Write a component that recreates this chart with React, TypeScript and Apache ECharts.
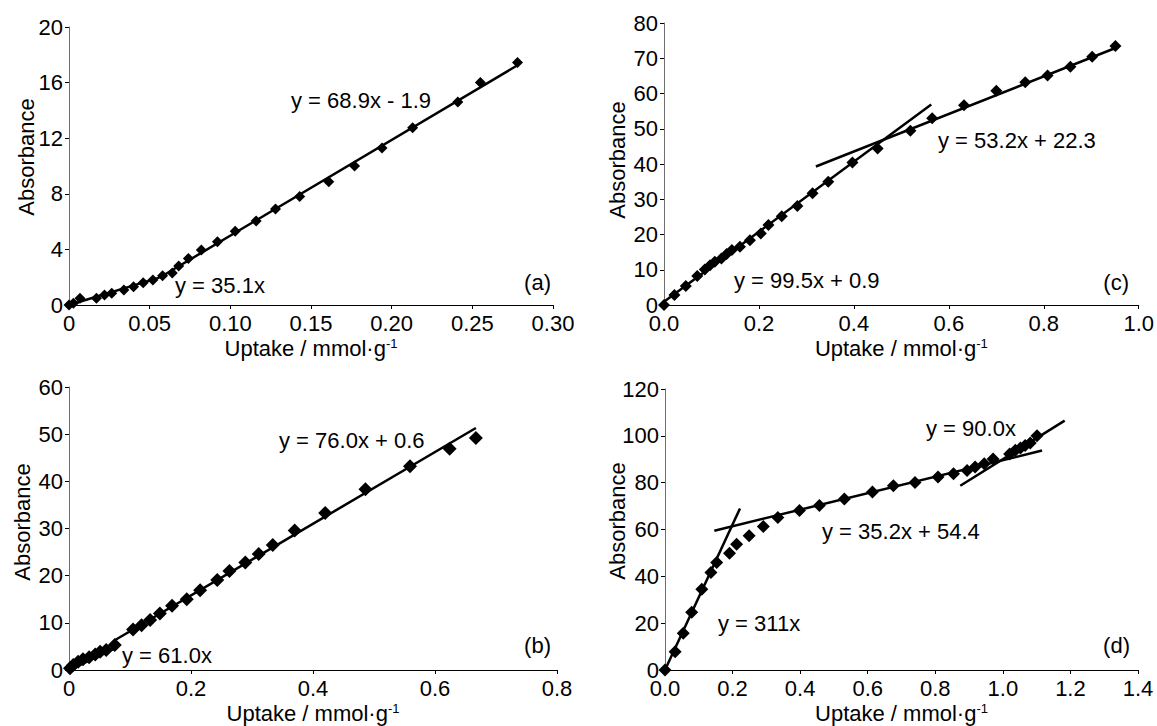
import React, { useEffect, useRef } from "react";
import * as echarts from "echarts";

const FONT = '"Liberation Sans", Arial, Helvetica, sans-serif';

// Panel (a)
const dataA: [number, number][] = [
  [0, 0], [0.0027, 0.12], [0.0068, 0.48], [0.017, 0.48], [0.022, 0.72], [0.0265, 0.84],
  [0.034, 1.08], [0.040, 1.32], [0.046, 1.6], [0.052, 1.8], [0.058, 2.1], [0.064, 2.3],
  [0.068, 2.8], [0.074, 3.35], [0.082, 3.95], [0.092, 4.55], [0.103, 5.3], [0.116, 6.05],
  [0.128, 6.9], [0.143, 7.8], [0.161, 8.87], [0.177, 10.0], [0.194, 11.3], [0.213, 12.75],
  [0.241, 14.6], [0.255, 16.0], [0.278, 17.45],
];
const fitA1: [number, number][] = [[0, 0], [0.056, 1.97]];
const fitA2: [number, number][] = [[0.056, 1.96], [0.278, 17.25]];

// Panel (b)
const dataB: [number, number][] = [
  [0.0016, 0.35], [0.007, 1.06], [0.015, 1.76], [0.023, 2.26], [0.033, 2.68], [0.043, 3.3],
  [0.051, 3.88], [0.061, 4.24], [0.075, 5.3], [0.105, 8.6], [0.119, 9.5], [0.133, 10.6],
  [0.149, 12.0], [0.169, 13.6], [0.193, 15.0], [0.215, 16.9], [0.243, 19.1], [0.263, 21.0],
  [0.289, 22.8], [0.311, 24.6], [0.334, 26.5], [0.370, 29.6], [0.420, 33.3], [0.486, 38.3],
  [0.559, 43.2], [0.624, 46.9], [0.667, 49.2],
];
const fitB1: [number, number][] = [[0, 0], [0.075, 4.58]];
const fitB2: [number, number][] = [[0.075, 6.3], [0.667, 51.3]];

// Panel (c)
const dataC: [number, number][] = [
  [0, 0], [0.022, 2.84], [0.046, 5.4], [0.070, 8.2], [0.086, 10.1], [0.097, 11.3],
  [0.107, 12.3], [0.121, 13.2], [0.132, 14.5], [0.143, 15.6], [0.160, 16.5], [0.181, 18.4],
  [0.204, 20.3], [0.220, 22.7], [0.248, 25.2], [0.281, 28.1], [0.313, 31.7], [0.346, 35.0],
  [0.397, 40.4], [0.450, 44.4], [0.519, 49.4], [0.565, 53.0], [0.632, 56.7], [0.700, 60.8],
  [0.761, 63.2], [0.808, 65.1], [0.856, 67.6], [0.902, 70.4], [0.951, 73.5],
];
const fitC1: [number, number][] = [[0, 0.9], [0.563, 56.9]];
const fitC2: [number, number][] = [[0.32, 39.3], [0.951, 72.9]];

// Panel (d)
const dataD: [number, number][] = [
  [0, 0], [0.030, 7.8], [0.054, 15.7], [0.079, 24.7], [0.109, 34.5], [0.136, 41.6],
  [0.153, 45.9], [0.191, 49.9], [0.212, 53.7], [0.249, 57.3], [0.291, 61.3], [0.334, 65.1],
  [0.398, 68.1], [0.457, 70.3], [0.531, 73.0], [0.614, 76.0], [0.676, 78.7], [0.740, 80.1],
  [0.808, 82.4], [0.854, 83.8], [0.894, 85.2], [0.918, 86.7], [0.945, 88.1], [0.971, 90.1],
  [1.020, 92.2], [1.037, 93.8], [1.052, 94.8], [1.066, 95.9], [1.081, 96.9], [1.101, 100.0],
];
const fitD1: [number, number][] = [[0, 0], [0.222, 69.0]];
const fitD2: [number, number][] = [[0.146, 59.5], [1.116, 93.7]];
const fitD3: [number, number][] = [[0.874, 78.7], [1.183, 106.5]];

// Axis ranges
const xRanges = [
  { min: 0, max: 0.3, interval: 0.05, digits: 2, zeroPlain: true },
  { min: 0, max: 1.0, interval: 0.2, digits: 1, zeroPlain: false },
  { min: 0, max: 0.8, interval: 0.2, digits: 1, zeroPlain: true },
  { min: 0, max: 1.4, interval: 0.2, digits: 1, zeroPlain: false },
];
const yRanges = [
  { min: 0, max: 20, interval: 4 },
  { min: 0, max: 80, interval: 10 },
  { min: 0, max: 60, interval: 10 },
  { min: 0, max: 120, interval: 20 },
];

const equationLabels = [
  { text: "y = 68.9x - 1.9", x: 291, y: 100, align: "left" },
  { text: "y = 35.1x", x: 175, y: 285, align: "left" },
  { text: "(a)", x: 551, y: 282, align: "right" },
  { text: "y = 99.5x + 0.9", x: 734, y: 280, align: "left" },
  { text: "y = 53.2x + 22.3", x: 938, y: 140, align: "left" },
  { text: "(c)", x: 1129, y: 282, align: "right" },
  { text: "y = 76.0x + 0.6", x: 279, y: 440, align: "left" },
  { text: "y = 61.0x", x: 122, y: 655, align: "left" },
  { text: "(b)", x: 551, y: 645, align: "right" },
  { text: "y = 311x", x: 718, y: 623, align: "left" },
  { text: "y = 35.2x + 54.4", x: 822, y: 531, align: "left" },
  { text: "y = 90.0x", x: 926, y: 428, align: "left" },
  { text: "(d)", x: 1130, y: 645, align: "right" },
];

const yNamePos = [
  { x: 26, y: 157 },
  { x: 617, y: 160 },
  { x: 22, y: 522 },
  { x: 617, y: 521 },
];

export default function App() {
  const ref = useRef<HTMLDivElement>(null);
  useEffect(() => {
    if (!ref.current) return;
    document.body.style.margin = "0";
    const chart = echarts.init(ref.current, undefined, { renderer: "svg" });

    const grids = [
      { left: 69, top: 27, width: 484, height: 278 },
      { left: 664, top: 23, width: 475, height: 282 },
      { left: 69, top: 387, width: 488, height: 283 },
      { left: 665, top: 389, width: 473, height: 281 },
    ];

    const xAxis = xRanges.map((r, i) => ({
      type: "value",
      gridIndex: i,
      min: r.min,
      max: r.max,
      interval: r.interval,
      splitLine: { show: false },
      axisLine: { show: true, onZero: false, lineStyle: { color: "#000", width: 1 } },
      axisTick: { show: true, length: 4, lineStyle: { color: "#000", width: 1 } },
      axisLabel: {
        fontSize: 22,
        fontFamily: FONT,
        color: "#000",
        margin: 7,
        formatter: (v: number) => (v === 0 && r.zeroPlain ? "0" : v.toFixed(r.digits)),
      },
      name: "Uptake / mmol·g{sup|-1}",
      nameLocation: "middle",
      nameGap: 32,
      nameTextStyle: {
        fontSize: 22,
        fontFamily: FONT,
        color: "#000",
        rich: {
          sup: { fontSize: 13, fontFamily: FONT, color: "#000", verticalAlign: "top", padding: [0, 0, 0, 0] },
        },
      },
    }));

    const yAxis = yRanges.map((r, i) => ({
      type: "value",
      gridIndex: i,
      min: r.min,
      max: r.max,
      interval: r.interval,
      splitLine: { show: false },
      axisLine: { show: true, lineStyle: { color: "#6e6e6e", width: 1 } },
      axisTick: { show: true, length: 4, lineStyle: { color: "#000", width: 1 } },
      axisLabel: { fontSize: 22, fontFamily: FONT, color: "#000", margin: 6 },
    }));

    const scatter = (data: [number, number][], idx: number, size: number) => ({
      type: "scatter",
      xAxisIndex: idx,
      yAxisIndex: idx,
      data,
      symbol: "diamond",
      symbolSize: size,
      itemStyle: { color: "#000", opacity: 1 },
      z: 3,
    });
    const fit = (data: [number, number][], idx: number) => ({
      type: "line",
      xAxisIndex: idx,
      yAxisIndex: idx,
      data,
      showSymbol: false,
      symbol: "none",
      lineStyle: { color: "#000", width: 2.5 },
      z: 2,
    });

    const graphic: any[] = [];
    equationLabels.forEach((l) => {
      graphic.push({
        type: "text",
        x: l.x,
        y: l.y,
        style: {
          text: l.text,
          fontSize: 22,
          fontFamily: FONT,
          fill: "#000",
          align: l.align,
          verticalAlign: "middle",
        },
        z: 10,
      });
    });
    yNamePos.forEach((p) => {
      graphic.push({
        type: "text",
        x: p.x,
        y: p.y,
        rotation: Math.PI / 2,
        style: {
          text: "Absorbance",
          fontSize: 22,
          fontFamily: FONT,
          fill: "#000",
          align: "center",
          verticalAlign: "middle",
        },
      });
    });

    chart.setOption({
      animation: false,
      backgroundColor: "#fff",
      grid: grids,
      xAxis,
      yAxis,
      graphic,
      series: [
        scatter(dataA, 0, 11),
        fit(fitA1, 0),
        fit(fitA2, 0),
        scatter(dataC, 1, 12),
        fit(fitC1, 1),
        fit(fitC2, 1),
        scatter(dataB, 2, 14),
        fit(fitB1, 2),
        fit(fitB2, 2),
        scatter(dataD, 3, 13),
        fit(fitD1, 3),
        fit(fitD2, 3),
        fit(fitD3, 3),
      ],
    });
    return () => chart.dispose();
  }, []);
  return (
    <div
      ref={ref}
      style={{ position: "fixed", left: 0, top: 0, width: 1157, height: 726 }}
    />
  );
}
